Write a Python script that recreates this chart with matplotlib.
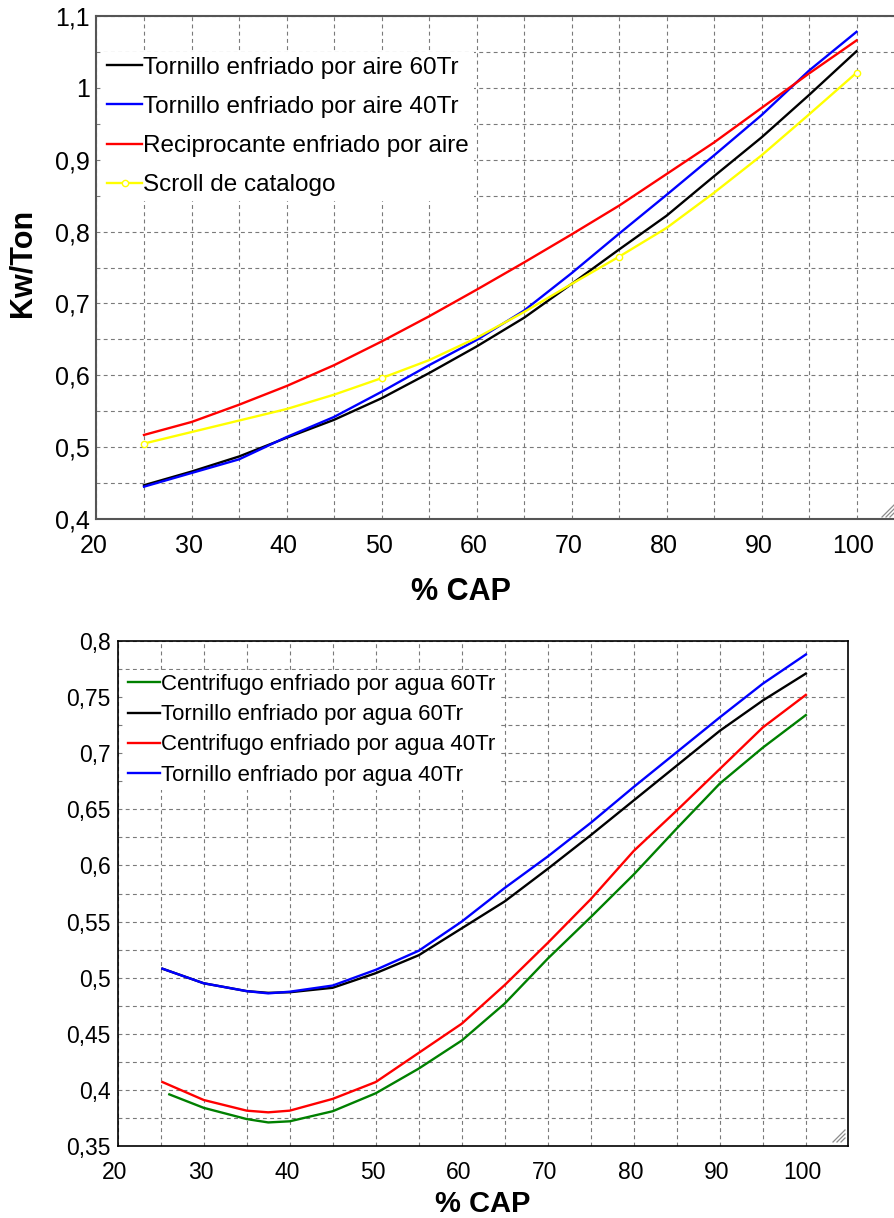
import matplotlib
matplotlib.use("Agg")
import matplotlib.pyplot as plt
import matplotlib.transforms as mtransforms
from matplotlib.lines import Line2D
from matplotlib.ticker import MultipleLocator, FuncFormatter

plt.rcParams['font.family'] = ['Liberation Sans', 'DejaVu Sans']

# ---- Air-cooled chillers: efficiency vs part load ----
cap_air = [25, 30, 35, 40, 45, 50, 55, 60, 65, 70, 75, 80, 85, 90, 95, 100]
tornillo_aire_60 = [0.447, 0.466, 0.487, 0.513, 0.538, 0.568, 0.603, 0.640,
                    0.680, 0.727, 0.775, 0.822, 0.877, 0.931, 0.990, 1.051]
tornillo_aire_40 = [0.445, 0.464, 0.483, 0.514, 0.542, 0.577, 0.614, 0.649,
                    0.690, 0.742, 0.797, 0.851, 0.906, 0.962, 1.024, 1.078]
reciprocante_aire = [0.517, 0.535, 0.559, 0.585, 0.614, 0.647, 0.682, 0.719,
                     0.757, 0.796, 0.836, 0.880, 0.924, 0.972, 1.020, 1.066]
scroll_catalogo = [0.505, 0.521, 0.537, 0.553, 0.573, 0.596, 0.621, 0.652,
                   0.688, 0.727, 0.765, 0.805, 0.854, 0.906, 0.963, 1.021]
scroll_catalog_points = [0, 5, 10, 15]   # catalogue points at 25/50/75/100 %

labels_air = ["Tornillo enfriado por aire 60Tr",
              "Tornillo enfriado por aire 40Tr",
              "Reciprocante enfriado por aire",
              "Scroll de catalogo"]

# ---- Water-cooled chillers ----
cap_agua = [25.2, 30, 35, 37.5, 40, 45, 50, 55, 60, 65, 70, 75, 80, 85, 90, 95, 100]
cap_centrifugo_60 = [26, 30, 35, 37.5, 40, 45, 50, 55, 60, 65, 70, 75, 80, 85, 90, 95, 100]
centrifugo_agua_60 = [0.396, 0.384, 0.374, 0.371, 0.372, 0.381, 0.397, 0.419, 0.444,
                      0.477, 0.517, 0.554, 0.592, 0.633, 0.673, 0.705, 0.734]
tornillo_agua_60 = [0.508, 0.495, 0.488, 0.4865, 0.487, 0.491, 0.504, 0.520, 0.544,
                    0.568, 0.597, 0.627, 0.658, 0.689, 0.720, 0.747, 0.771]
centrifugo_agua_40 = [0.407, 0.391, 0.3815, 0.380, 0.3815, 0.392, 0.407, 0.433, 0.459,
                      0.4935, 0.531, 0.570, 0.613, 0.649, 0.686, 0.723, 0.752]
tornillo_agua_40 = [0.508, 0.495, 0.488, 0.486, 0.4875, 0.493, 0.507, 0.524, 0.550,
                    0.580, 0.608, 0.638, 0.670, 0.701, 0.732, 0.762, 0.788]

labels_agua = ["Centrifugo enfriado por agua 60Tr",
               "Tornillo enfriado por agua 60Tr",
               "Centrifugo enfriado por agua 40Tr",
               "Tornillo enfriado por agua 40Tr"]

W, H = 895, 1218
fig = plt.figure(figsize=(W / 100, H / 100), dpi=100)


def axes_px(left, top, right, bottom):
    return fig.add_axes([left / W, 1 - bottom / H, (right - left) / W, (bottom - top) / H])


def comma(v, pos):
    return f"{round(v, 3):g}".replace('.', ',')


def style(ax, xstep, ystep, tick_fs, spine_color, spine_lw):
    ax.xaxis.set_major_locator(MultipleLocator(xstep))
    ax.xaxis.set_minor_locator(MultipleLocator(xstep / 2))
    ax.yaxis.set_major_locator(MultipleLocator(ystep))
    ax.yaxis.set_minor_locator(MultipleLocator(ystep / 2))
    ax.yaxis.set_major_formatter(FuncFormatter(comma))
    ax.grid(True, which='both', color='#7a7a7a', linewidth=0.8,
            linestyle=(0, (3.5, 3)))
    ax.tick_params(which='both', length=0, labelsize=tick_fs)
    ax.tick_params(axis='y', pad=5)
    ax.tick_params(axis='x', pad=11)
    for s in ax.spines.values():
        s.set_color(spine_color)
        s.set_linewidth(spine_lw)
    ax.set_axisbelow(True)
    shift = mtransforms.ScaledTranslation(-3 / 100, 0, fig.dpi_scale_trans)
    for t in ax.xaxis.get_major_ticks():
        t.label1.set_transform(t.label1.get_transform() + shift)


def grip(x0, y0):
    for d in (0, 4, 8):
        fig.add_artist(Line2D([(x0 + d) / W, (x0 + 12) / W],
                              [1 - (y0 + 12) / H, 1 - (y0 + d) / H],
                              color='#8c8c8c', lw=0.9, transform=fig.transFigure))


LW = 1.7

# ---------------- top chart ----------------
ax1 = axes_px(96.5, 16, 895, 519)
ax1.set_xlim(20, 104.05)
ax1.set_ylim(0.4, 1.1)
ax1.plot(cap_air, tornillo_aire_60, color='black', lw=LW, label=labels_air[0])
ax1.plot(cap_air, tornillo_aire_40, color='#0000ff', lw=LW, label=labels_air[1])
ax1.plot(cap_air, reciprocante_aire, color='#ff0000', lw=LW, label=labels_air[2])
ax1.plot(cap_air, scroll_catalogo, color='#ffff00', lw=LW, marker='o', ms=4.5,
         mfc='white', mec='#ffff00', mew=1.0, markevery=scroll_catalog_points,
         label=labels_air[3])
style(ax1, 10, 0.1, 18, '#555555', 1.5)
ax1.spines['right'].set_visible(False)
ax1.set_ylabel("Kw/Ton", fontsize=22, fontweight='bold')
ax1.yaxis.set_label_coords(-0.074, 0.51)
ax1.set_xlabel("% CAP", fontsize=22, fontweight='bold')
ax1.xaxis.set_label_coords(0.456, -0.115)
leg1 = ax1.legend(loc='upper left', bbox_to_anchor=(0.007, 0.929), borderaxespad=0,
                  fontsize=17.5, frameon=True, facecolor='white', edgecolor='none',
                  framealpha=1, fancybox=False, handlelength=1.45, handletextpad=0.05,
                  labelspacing=0.71, borderpad=0.2)
grip(882, 505)

# ---------------- bottom chart ----------------
ax2 = axes_px(117.7, 641, 848, 1146)
ax2.set_xlim(20, 104.9)
ax2.set_ylim(0.35, 0.8)
ax2.plot(cap_centrifugo_60, centrifugo_agua_60, color='#008000', lw=LW, label=labels_agua[0])
ax2.plot(cap_agua, tornillo_agua_60, color='black', lw=LW, label=labels_agua[1])
ax2.plot(cap_agua, centrifugo_agua_40, color='#ff0000', lw=LW, label=labels_agua[2])
ax2.plot(cap_agua, tornillo_agua_40, color='#0000ff', lw=LW, label=labels_agua[3])
style(ax2, 10, 0.05, 16.5, 'black', 1.2)
ax2.set_xlabel("% CAP", fontsize=21, fontweight='bold')
ax2.xaxis.set_label_coords(0.5, -0.087)
leg2 = ax2.legend(loc='upper left', bbox_to_anchor=(0.008, 0.943), borderaxespad=0,
                  fontsize=16, frameon=True, facecolor='white', edgecolor='none',
                  framealpha=1, fancybox=False, handlelength=1.45, handletextpad=0.05,
                  labelspacing=0.41, borderpad=0.2)
grip(833, 1130)

fig.savefig("out.png", dpi=100)
